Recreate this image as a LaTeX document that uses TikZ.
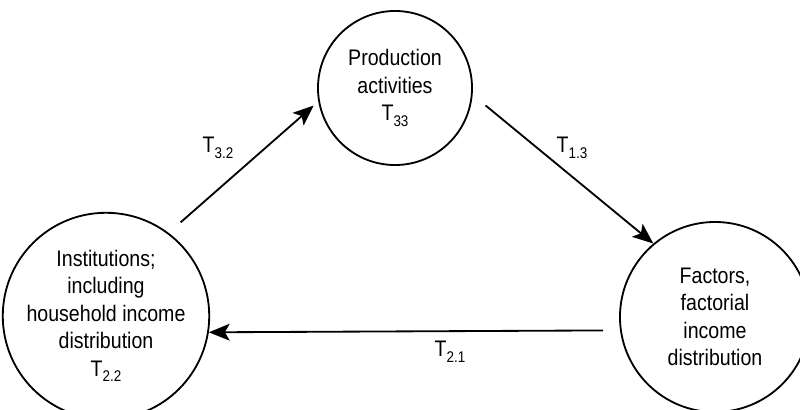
\documentclass[tikz,border=0pt]{standalone}
\usepackage{fontspec}
\setmainfont[FakeStretch=0.87]{Liberation Sans}
\usetikzlibrary{arrows.meta,positioning,calc}

\newcommand{\tlab}[1]{T\raisebox{-0.5ex}{\fontsize{11}{11}\selectfont #1}}

\begin{document}
\begin{tikzpicture}[
    x=0.025cm, y=-0.025cm,
    acct/.style={circle, draw, line width=1.3pt, inner sep=0pt, align=center, font=\fontsize{16}{19.5}\selectfont},
    arrow/.style={-{Stealth[length=0.52cm, width=0.42cm, inset=0.12cm]}, line width=1.3pt},
    flow/.style={font=\fontsize{16}{20}\selectfont}
]
\useasboundingbox (0,0) rectangle (800,409);

% Accounts
\node[acct, minimum size=3.85cm] (prod) at (395,88) {Production\\activities\\\tlab{33}};
\node[acct, minimum size=4.65cm] (inst) at (106,316) {Institutions;\\including\\household income\\distribution\\\tlab{2.2}};
\node[acct, minimum size=4.75cm] (fact) at (715,317) {Factors,\\factorial\\income\\distribution};

% Flows
\draw[arrow, shorten <=0.4cm, shorten >=0.15cm] (inst.53) -- (prod.190);
\draw[arrow, shorten <=0.42cm] (prod.-5) -- (fact.130);
\draw[arrow, shorten <=0.42cm] (fact.188) -- (inst.-9);

% Flow labels
\node[flow] (l32) at (218,148) {\tlab{3.2}};
\node[flow] (l13) at (572,148) {\tlab{1.3}};
\node[flow] (l21) at (450,352) {\tlab{2.1}};
\end{tikzpicture}
\end{document}
